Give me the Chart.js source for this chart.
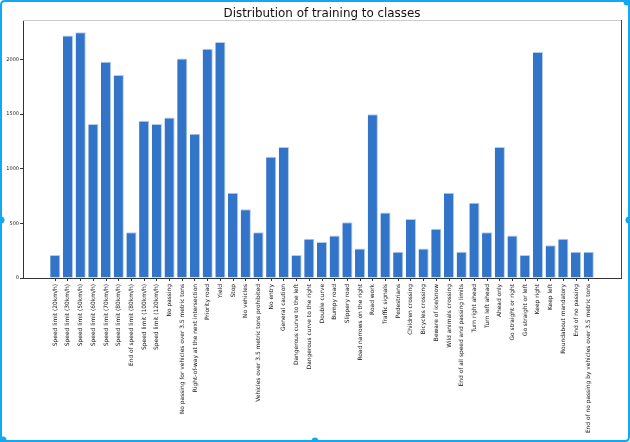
<!DOCTYPE html>
<html>
<head>
<meta charset="utf-8">
<script src="https://cdn.jsdelivr.net/npm/chart.js@4.4.0/dist/chart.umd.min.js"></script>
<style>
html,body{margin:0;padding:0;background:#fff;}
#wrap{width:630px;height:442px;position:relative;}
canvas{display:block;}
</style>
</head>
<body>
<div id="wrap"><canvas id="c" width="630" height="442"></canvas></div>
<script>
const classNames = [
  "Speed limit (20km/h)","Speed limit (30km/h)","Speed limit (50km/h)","Speed limit (60km/h)",
  "Speed limit (70km/h)","Speed limit (80km/h)","End of speed limit (80km/h)","Speed limit (100km/h)",
  "Speed limit (120km/h)","No passing","No passing for vehicles over 3.5 metric tons",
  "Right-of-way at the next intersection","Priority road","Yield","Stop","No vehicles",
  "Vehicles over 3.5 metric tons prohibited","No entry","General caution","Dangerous curve to the left",
  "Dangerous curve to the right","Double curve","Bumpy road","Slippery road","Road narrows on the right",
  "Road work","Traffic signals","Pedestrians","Children crossing","Bicycles crossing","Beware of ice/snow",
  "Wild animals crossing","End of all speed and passing limits","Turn right ahead","Turn left ahead",
  "Ahead only","Go straight or right","Go straight or left","Keep right","Keep left",
  "Roundabout mandatory","End of no passing","End of no passing by vehicles over 3.5 metric tons"
];
const counts = [
  210,2220,2250,1410,1980,1860,420,1440,1410,1470,2010,1320,2100,2160,780,630,420,1110,1200,210,
  360,330,390,510,270,1500,600,240,540,270,450,780,240,689,420,1200,390,210,2070,300,360,240,240
];
const yTicks = [0,500,1000,1500,2000];
const titleText = "Distribution of training to classes";

const FONT = "'DejaVu Sans', sans-serif";

const framePlugin = {
  id: 'frame',
  afterDraw(chart) {
    const ctx = chart.ctx, a = chart.chartArea;
    ctx.save();
    ctx.lineWidth = 1;
    ctx.strokeStyle = '#cccccc';
    ctx.beginPath(); ctx.moveTo(a.left, a.top + 0.5); ctx.lineTo(a.right, a.top + 0.5); ctx.stroke();
    ctx.strokeStyle = '#444444';
    ctx.beginPath(); ctx.moveTo(a.right + 0.5, a.top); ctx.lineTo(a.right + 0.5, a.bottom); ctx.stroke();
    ctx.fillStyle = '#111';
    ctx.font = "11.9px " + FONT;
    ctx.textAlign = 'center';
    ctx.textBaseline = 'alphabetic';
    ctx.fillText(titleText, (a.left + a.right) / 2, 17);
    ctx.strokeStyle = '#12a9f2';
    ctx.lineWidth = 2;
    const r = 4;
    ctx.beginPath();
    ctx.moveTo(1 + r, 1); ctx.lineTo(629 - r, 1); ctx.quadraticCurveTo(629, 1, 629, 1 + r);
    ctx.lineTo(629, 441 - r); ctx.quadraticCurveTo(629, 441, 629 - r, 441);
    ctx.lineTo(1 + r, 441); ctx.quadraticCurveTo(1, 441, 1, 441 - r);
    ctx.lineTo(1, 1 + r); ctx.quadraticCurveTo(1, 1, 1 + r, 1);
    ctx.stroke();
    ctx.fillStyle = '#12a9f2';
    [[1,220],[629,220],[315,441],[627,2],[3,440]].forEach(p => {
      ctx.beginPath(); ctx.arc(p[0], p[1], 3.5, 0, Math.PI * 2); ctx.fill();
    });
    ctx.restore();
  }
};

new Chart(document.getElementById('c'), {
  type: 'bar',
  data: {
    datasets: [{
      data: counts.map((v, i) => ({x: i, y: v})),
      backgroundColor: '#3274c8',
      borderColor: '#b4cbeb',
      borderWidth: {top: 1, right: 1, left: 0, bottom: 0},
      categoryPercentage: 1.0,
      barPercentage: 0.8
    }]
  },
  options: {
    responsive: false,
    animation: false,
    devicePixelRatio: 1,
    layout: {padding: {top: 20, left: 0, right: 9, bottom: 0}},
    plugins: {legend: {display: false}, tooltip: {enabled: false}, title: {display: false}},
    scales: {
      x: {
        type: 'linear',
        offset: false,
        min: -2.54, max: 44.54,
        afterBuildTicks: s => { s.ticks = classNames.map((_, i) => ({value: i})); },
        afterFit: s => { s.height = 164; },
        ticks: {
          autoSkip: false, minRotation: 90, maxRotation: 90,
          font: {family: FONT, size: 5.9}, color: '#111', padding: 3,
          callback: v => classNames[v]
        },
        grid: {drawOnChartArea: false, drawTicks: true, tickLength: 3, color: '#333', offset: false},
        border: {display: true, color: '#333', width: 1}
      },
      y: {
        min: 0, max: 2362.5,
        afterBuildTicks: s => { s.ticks = yTicks.map(v => ({value: v})); },
        afterFit: s => { s.width = 23; },
        ticks: {font: {family: FONT, size: 5}, color: '#222', padding: 1, callback: v => String(v)},
        grid: {drawOnChartArea: false, drawTicks: true, tickLength: 3, color: '#333'},
        border: {display: true, color: '#333', width: 1}
      }
    }
  },
  plugins: [framePlugin]
});
</script>
</body>
</html>
